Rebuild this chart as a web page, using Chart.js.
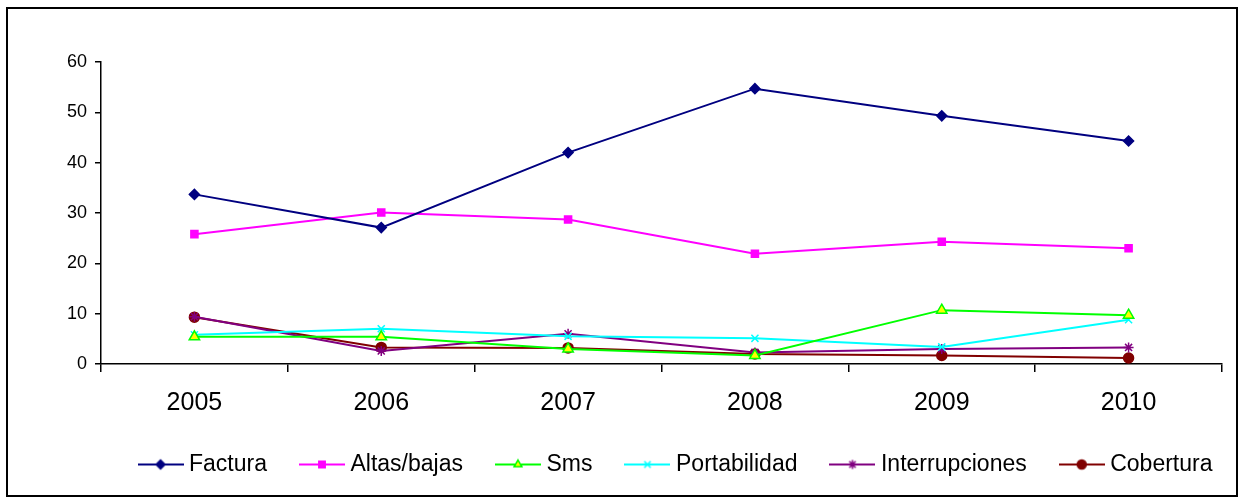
<!DOCTYPE html>
<html><head><meta charset="utf-8">
<script src="https://cdn.jsdelivr.net/npm/chart.js@4/dist/chart.umd.min.js"></script>
<style>html,body{margin:0;padding:0;background:#fff;}#wrap{position:relative;width:1243px;height:502px;}</style>
</head><body><div id="wrap"><canvas id="c" width="1243" height="502"></canvas></div>
<script>
const years = ['2005','2006','2007','2008','2009','2010'];
const factura = [33.7, 27.1, 42.0, 54.7, 49.3, 44.3];
const altasBajas = [25.8, 30.1, 28.7, 21.9, 24.3, 23.0];
const sms = [5.4, 5.4, 3.0, 1.7, 10.7, 9.7];
const portabilidad = [5.8, 7.0, 5.5, 5.1, 3.4, 8.8];
const interrupciones = [9.4, 2.6, 6.0, 2.3, 3.0, 3.3];
const cobertura = [9.3, 3.3, 3.2, 2.0, 1.7, 1.2];
const yTicks = [0, 10, 20, 30, 40, 50, 60];

const FONT = '"Liberation Sans", Arial, sans-serif';

function ds(label, data, color, style, bg, radius) {
  return {label, data, borderColor: color, backgroundColor: color, pointStyle: style,
    pointBackgroundColor: bg || color, pointBorderColor: color, pointRadius: radius || 5,
    pointBorderWidth: 1.5, borderWidth: 2, tension: 0, fill: false};
}
const datasets = [
  ds('Factura', factura, '#000080', 'rectRot', null, 5),
  ds('Altas/bajas', altasBajas, '#FF00FF', 'rect', null, 5),
  ds('Sms', sms, '#00FF00', 'triangle', '#FFFF00', 6),
  ds('Portabilidad', portabilidad, '#00FFFF', 'crossRot', null, 5),
  ds('Interrupciones', interrupciones, '#800080', 'star', null, 5),
  ds('Cobertura', cobertura, '#800000', 'circle', null, 5)
];

function legendIcon(d) {
  const c = document.createElement('canvas');
  c.width = 46; c.height = 14;
  const ctx = c.getContext('2d');
  ctx.strokeStyle = d.borderColor; ctx.lineWidth = 2;
  ctx.beginPath(); ctx.moveTo(0, 7); ctx.lineTo(46, 7); ctx.stroke();
  ctx.fillStyle = d.pointBackgroundColor; ctx.strokeStyle = d.pointBorderColor; ctx.lineWidth = 1.5;
  Chart.helpers.drawPoint(ctx, {pointStyle: d.pointStyle, radius: 4.5, borderWidth: 1.5, rotation: 0}, 23, 7);
  return c;
}

const framePlugin = {
  id: 'frame',
  beforeDraw(chart) {
    const ctx = chart.ctx;
    ctx.save();
    ctx.fillStyle = '#fff'; ctx.fillRect(0, 0, chart.width, chart.height);
    ctx.strokeStyle = '#000'; ctx.lineWidth = 2;
    ctx.strokeRect(7, 8, 1230, 488);
    ctx.restore();
  },
  afterLayout(chart) {
    if (chart.legend) { chart.legend.left += 67; chart.legend.right += 67; }
  }
};

new Chart(document.getElementById('c'), {
  type: 'line',
  data: {labels: years, datasets},
  plugins: [framePlugin],
  options: {
    responsive: false, animation: false, devicePixelRatio: 1,
    layout: {padding: {left: 0, right: 21, top: 62, bottom: 16}},
    plugins: {
      tooltip: {enabled: false},
      legend: {
        position: 'bottom',
        labels: {
          usePointStyle: true, pointStyleWidth: 34, boxHeight: 14, padding: 38,
          color: '#000', font: {family: FONT, size: 23},
          generateLabels(chart) {
            return chart.data.datasets.map((d, i) => ({
              text: d.label, pointStyle: legendIcon(d), fillStyle: d.borderColor,
              strokeStyle: d.borderColor, lineWidth: 0, datasetIndex: i, hidden: false, fontColor: '#000'
            }));
          }
        }
      }
    },
    scales: {
      x: {
        offset: true,
        grid: {offset: true, drawOnChartArea: false, drawTicks: true, tickLength: 8, color: '#000', lineWidth: 1.5},
        border: {color: '#000', width: 1.5},
        ticks: {color: '#000', font: {family: FONT, size: 25}, padding: 16, maxRotation: 0},
        afterFit(s) { s.height = 51; }
      },
      y: {
        min: 0, max: 60,
        afterBuildTicks(s) { s.ticks = yTicks.map(v => ({value: v})); },
        grid: {drawOnChartArea: false, drawTicks: true, tickLength: 6, color: '#000', lineWidth: 1.5},
        border: {color: '#000', width: 1.5},
        ticks: {color: '#000', font: {family: FONT, size: 18}, padding: 8},
        afterFit(s) { s.width = 101; }
      }
    }
  }
});
</script></body></html>
